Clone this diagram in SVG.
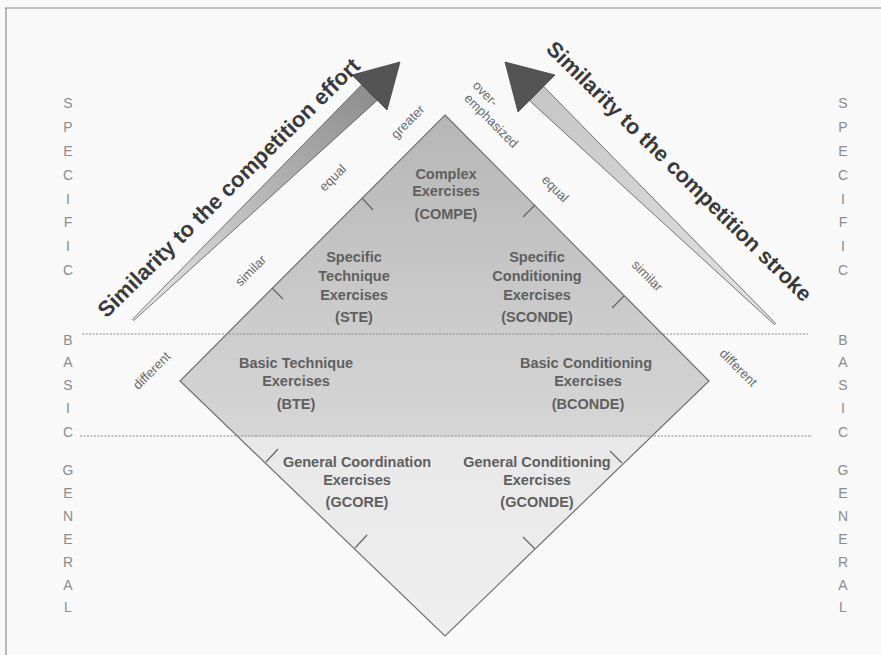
<svg xmlns="http://www.w3.org/2000/svg" width="881" height="655" viewBox="0 0 881 655">
<defs>
<style>
.t{font-family:"Liberation Sans",Arial,sans-serif}
.lbl{font-size:14.5px;font-weight:bold;fill:#5f5f5f;text-anchor:middle}
.rot{font-size:13px;fill:#6a6a6a;text-anchor:middle}
.side{font-size:14px;fill:#8c8c8c;text-anchor:middle}
.big{font-size:22px;font-weight:bold;fill:#3a3a3a;text-anchor:middle}
.tick{stroke:#666;stroke-width:1.2;fill:none}
.dot{stroke:#8a8a8a;stroke-width:1;stroke-dasharray:2 1.5}
.head{fill:#545454;stroke:#444;stroke-width:0.8}
</style>
<linearGradient id="dg" x1="0" y1="115" x2="0" y2="636" gradientUnits="userSpaceOnUse">
<stop offset="0" stop-color="#b6b6b6"/>
<stop offset="0.42" stop-color="#cdcdcd"/>
<stop offset="0.615" stop-color="#d6d6d6"/>
<stop offset="0.62" stop-color="#e8e8e8"/>
<stop offset="1" stop-color="#efefef"/>
</linearGradient>
<linearGradient id="gl" x1="133" y1="320" x2="370" y2="92" gradientUnits="userSpaceOnUse">
<stop offset="0" stop-color="#e8e8e8"/>
<stop offset="1" stop-color="#8e8e8e"/>
</linearGradient>
<linearGradient id="gr" x1="775" y1="324" x2="536" y2="93" gradientUnits="userSpaceOnUse">
<stop offset="0" stop-color="#e2e2e2"/>
<stop offset="1" stop-color="#c6c6c6"/>
</linearGradient>
</defs>
<rect x="0" y="0" width="881" height="655" fill="#f9f9f9"/>
<g id="frame" stroke="#8a8a8a" stroke-width="1.2">
<line x1="5" y1="8" x2="881" y2="8"/>
<line x1="6" y1="8" x2="6" y2="655"/>
</g>
<g id="diamond">
<polygon points="445,115 709,381 445,636 180,381" fill="url(#dg)" stroke="#707070" stroke-width="1.2"/>
</g>
<g id="levels">
<line class="dot" x1="82" y1="334" x2="808" y2="334"/>
<line class="dot" x1="80" y1="436" x2="812" y2="436"/>
</g>
<g id="ticks">
<line class="tick" x1="362" y1="198" x2="373" y2="210"/>
<line class="tick" x1="272" y1="288" x2="283" y2="299"/>
<line class="tick" x1="535" y1="205" x2="523" y2="217"/>
<line class="tick" x1="624" y1="296" x2="612" y2="308"/>
<line class="tick" x1="266" y1="462" x2="278" y2="449"/>
<line class="tick" x1="355" y1="548" x2="367" y2="535"/>
<line class="tick" x1="622" y1="463" x2="610" y2="451"/>
<line class="tick" x1="535" y1="549" x2="523" y2="537"/>
</g>
<g id="connectors">
<g id="arrow-effort">
<polygon points="132.4,319.4 361.9,84.6 377.1,100.4 133.6,320.6" fill="url(#gl)" stroke="#555" stroke-width="0.8"/>
<polygon class="head" points="400,62 352,75 387,110"/>
</g>
<g id="arrow-stroke">
<polygon points="774.4,324.6 529.6,100.7 543.5,86.3 775.6,323.4" fill="url(#gr)" stroke="#555" stroke-width="0.8"/>
<polygon class="head" points="505,62 555,75 518,112"/>
</g>
</g>
<g id="arrow-labels">
<text class="t big" transform="translate(234,193) rotate(-44.6)" x="0" y="0">Similarity to the competition effort</text>
<text class="t big" style="font-size:21.6px" transform="translate(674,176.5) rotate(44.4)" x="0" y="0">Similarity to the competition stroke</text>
</g>
<g id="edge-labels">
<text class="t rot" transform="translate(408,122) rotate(-45)" x="0" y="4">greater</text>
<text class="t rot" transform="translate(333,178) rotate(-45)" x="0" y="4">equal</text>
<text class="t rot" transform="translate(251,271) rotate(-45)" x="0" y="4">similar</text>
<text class="t rot" transform="translate(152,371) rotate(-45)" x="0" y="4">different</text>
<g transform="translate(491,121) rotate(45)">
<text class="t rot" style="text-anchor:start" x="-38" y="-11">over-</text>
<text class="t rot" x="0" y="4">emphasized</text>
</g>
<text class="t rot" transform="translate(555,189) rotate(45)" x="0" y="4">equal</text>
<text class="t rot" transform="translate(647,276) rotate(45)" x="0" y="4">similar</text>
<text class="t rot" transform="translate(738,368) rotate(45)" x="0" y="4">different</text>
</g>
<g id="COMPE">
<text class="t lbl"><tspan x="446" y="179">Complex</tspan><tspan x="446" y="196">Exercises</tspan><tspan x="446" y="219">(COMPE)</tspan></text>
</g>
<g id="STE">
<text class="t lbl"><tspan x="354" y="262">Specific</tspan><tspan x="354" y="281">Technique</tspan><tspan x="354" y="300">Exercises</tspan><tspan x="354" y="322">(STE)</tspan></text>
</g>
<g id="SCONDE">
<text class="t lbl"><tspan x="537" y="262">Specific</tspan><tspan x="537" y="281">Conditioning</tspan><tspan x="537" y="300">Exercises</tspan><tspan x="537" y="322">(SCONDE)</tspan></text>
</g>
<g id="BTE">
<text class="t lbl"><tspan x="296" y="368">Basic Technique</tspan><tspan x="296" y="386">Exercises</tspan><tspan x="296" y="409">(BTE)</tspan></text>
</g>
<g id="BCONDE">
<text class="t lbl"><tspan x="586" y="368">Basic Conditioning</tspan><tspan x="588" y="386">Exercises</tspan><tspan x="588" y="409">(BCONDE)</tspan></text>
</g>
<g id="GCORE">
<text class="t lbl"><tspan x="357" y="467">General Coordination</tspan><tspan x="357" y="485">Exercises</tspan><tspan x="357" y="507">(GCORE)</tspan></text>
</g>
<g id="GCONDE">
<text class="t lbl"><tspan x="537" y="467">General Conditioning</tspan><tspan x="537" y="485">Exercises</tspan><tspan x="537" y="507">(GCONDE)</tspan></text>
</g>
<g id="side-left">
<text class="t side"><tspan x="68" y="108">S</tspan><tspan x="68" y="132">P</tspan><tspan x="68" y="156">E</tspan><tspan x="68" y="180">C</tspan><tspan x="68" y="204">I</tspan><tspan x="68" y="227">F</tspan><tspan x="68" y="251">I</tspan><tspan x="68" y="275">C</tspan></text>
<text class="t side"><tspan x="68" y="345">B</tspan><tspan x="68" y="367">A</tspan><tspan x="68" y="390">S</tspan><tspan x="68" y="413">I</tspan><tspan x="68" y="437">C</tspan></text>
<text class="t side"><tspan x="68" y="475">G</tspan><tspan x="68" y="498">E</tspan><tspan x="68" y="521">N</tspan><tspan x="68" y="544">E</tspan><tspan x="68" y="567">R</tspan><tspan x="68" y="590">A</tspan><tspan x="68" y="612">L</tspan></text>
</g>
<g id="side-right">
<text class="t side"><tspan x="843" y="108">S</tspan><tspan x="843" y="132">P</tspan><tspan x="843" y="156">E</tspan><tspan x="843" y="180">C</tspan><tspan x="843" y="204">I</tspan><tspan x="843" y="227">F</tspan><tspan x="843" y="251">I</tspan><tspan x="843" y="275">C</tspan></text>
<text class="t side"><tspan x="843" y="345">B</tspan><tspan x="843" y="367">A</tspan><tspan x="843" y="390">S</tspan><tspan x="843" y="413">I</tspan><tspan x="843" y="437">C</tspan></text>
<text class="t side"><tspan x="843" y="475">G</tspan><tspan x="843" y="498">E</tspan><tspan x="843" y="521">N</tspan><tspan x="843" y="544">E</tspan><tspan x="843" y="567">R</tspan><tspan x="843" y="590">A</tspan><tspan x="843" y="612">L</tspan></text>
</g>
</svg>
